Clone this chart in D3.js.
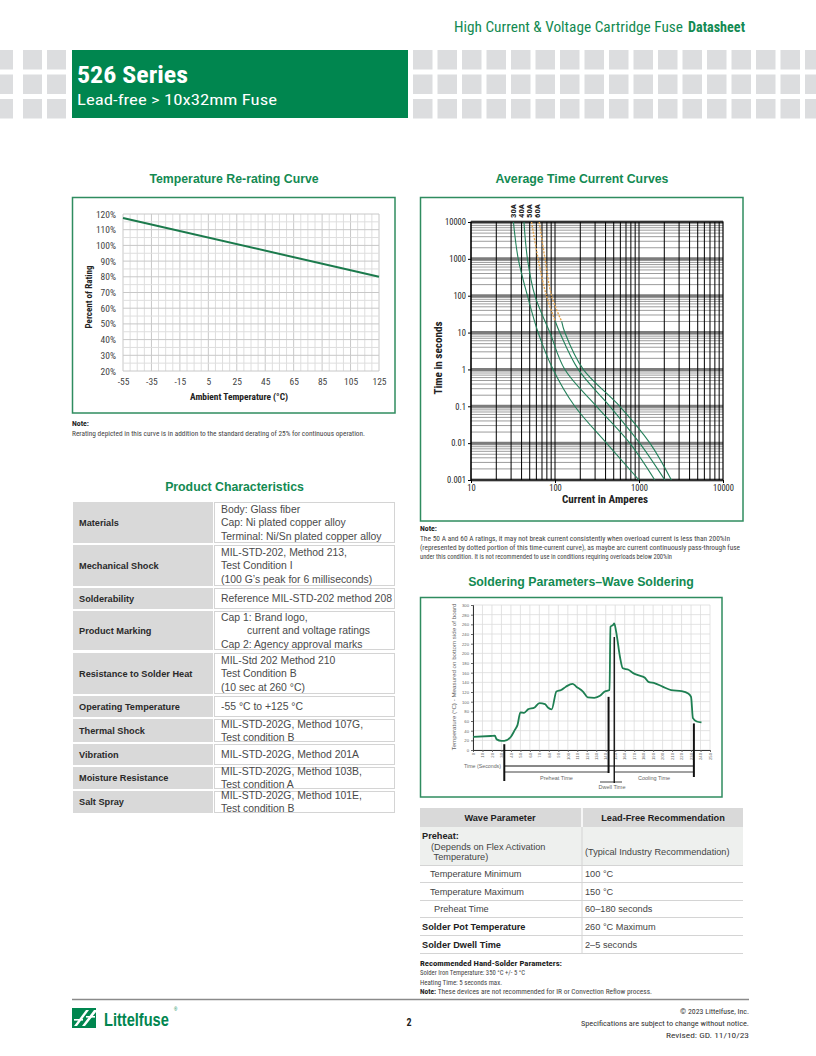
<!DOCTYPE html>
<html><head><meta charset="utf-8">
<script src="https://cdn.jsdelivr.net/npm/d3@7"></script>
<style>body{margin:0;background:#fff}svg{display:block}</style>
</head><body>
<svg id="page" width="816" height="1056"></svg>
<script>
// ---------------- DATA ----------------
const headerTitle = "High Current & Voltage Cartridge Fuse";
const headerBold = "Datasheet";
const seriesTitle = "526 Series";
const seriesSub = "Lead-free > 10x32mm Fuse";

// Temperature re-rating curve
const derateTemps = [-55, 125];
const deratePct = [117.5, 80];
const derateXTicks = [-55, -35, -15, 5, 25, 45, 65, 85, 105, 125];
const derateYTicks = [20, 30, 40, 50, 60, 70, 80, 90, 100, 110, 120];

// Average time current curves
const tccLabels = ["30A", "40A", "50A", "60A"];
const tccTimes = [10000, 1000, 100, 10, 1, 0.1, 0.01, 0.001];
const tcc30A = [32, 36.5, 47, 63, 95, 172, 410, 1000];
const tcc40A = [42.7, 47, 57.6, 87, 131, 312, 777, 1540];
const tccDotTimes = [10000, 1000, 100, 20];
const tccSolidTimes = [20, 10, 1, 0.1, 0.01, 0.001];
const tcc50ADot = [52.6, 63, 79, 101];
const tcc50ASolid = [101, 114, 189, 450, 1020, 2030];
const tcc60ADot = [65, 76, 91, 120];
const tcc60ASolid = [120, 131, 217, 590, 1350, 2430];
const tccXTicks = [10, 100, 1000, 10000];
const tccYTicks = [0.001, 0.01, 0.1, 1, 10, 100, 1000, 10000];

// Wave soldering profile
const solderTime = [0,19,23,25,30,33,40,44,47,50,54,58,65,70,76,79,83,88,93,98,105,109,116,121,128,134,139,144,145,148,149,151,155,158,164,169,174,181,185,192,200,209,220,227,230,232,236,241];
const solderTemp = [27,29,29.5,22,19,19,27.5,41,52,78,77,84,88,97,95,88,84,121,124,131,137,131,121,109,108,112,121,124,255,259,262,245,193,169,166,159,155,150,141,138,131,124,122,117,110,66,59,57];
const solderXTicks = d3.range(0, 251, 10);
const solderYTicks = d3.range(0, 301, 20);
const solderMarkT = [33, 143, 149, 233];
const solderMarkTemp = [12, 110, 234, 55];

// Product characteristics
const pcLabels = ["Materials","Mechanical Shock","Solderability","Product Marking","Resistance to Solder Heat","Operating  Temperature","Thermal Shock","Vibration","Moisture Resistance","Salt Spray"];
const pcValues = [
  ["Body: Glass fiber","Cap: Ni plated copper alloy","Terminal: Ni/Sn plated copper alloy"],
  ["MIL-STD-202, Method 213,","Test Condition I","(100 G’s peak for 6 milliseconds)"],
  ["Reference MIL-STD-202 method 208"],
  ["Cap 1: Brand logo,","\u00a0\u00a0\u00a0\u00a0\u00a0\u00a0\u00a0\u00a0\u00a0current and voltage ratings","Cap 2: Agency approval marks"],
  ["MIL-Std 202 Method 210","Test Condition B","(10 sec at 260 °C)"],
  ["-55 °C to +125 °C"],
  ["MIL-STD-202G, Method 107G,","Test  condition B"],
  ["MIL-STD-202G, Method 201A"],
  ["MIL-STD-202G, Method 103B,","Test  condition A"],
  ["MIL-STD-202G, Method 101E,","Test  condition B"]
];
const pcRowTop = [502,545,588,611,653,696,719,744,767,791];
const pcRowBot = [543,586,609,650,694,717,742,765,789,813];

// Wave parameter table
const wpHeader = ["Wave Parameter","Lead-Free Recommendation"];
const wpParam = [["Preheat:","(Depends on Flex Activation","\u00a0Temperature)"],["Temperature Minimum"],["Temperature Maximum"],["Preheat Time"],["Solder Pot Temperature"],["Solder Dwell Time"]];
const wpRec = ["(Typical Industry Recommendation)","100 °C","150 °C","60–180 seconds","260 °C Maximum","2–5 seconds"];
const wpRowTop = [827,866,883,901,918,936];
const wpRowBot = [865,882,900,917,935,953];

// ---------------- HELPERS ----------------
const svg = d3.select("#page");
const SANS = "'Liberation Sans', Arial, Helvetica, sans-serif";
const NARROW = "'Liberation Sans Narrow','Roboto Condensed','DejaVu Sans Condensed','Liberation Sans',Arial,sans-serif";
const GREEN = "#00864f", TGREEN = "#138a52", BOXG = "#2f8c5f", CURVE = "#1b7a4c";

function T(g, x, y, s, o = {}) {
  const t = g.append("text").attr("x", x).attr("y", y).text(s)
    .attr("font-family", o.ff || SANS).attr("font-size", o.fs || 10).attr("fill", o.fill || "#333");
  if (o.fw) t.attr("font-weight", o.fw);
  if (o.anchor) t.attr("text-anchor", o.anchor);
  if (o.len) t.attr("textLength", o.len).attr("lengthAdjust", "spacingAndGlyphs");
  if (o.rot != null) t.attr("transform", `rotate(${o.rot},${x},${y})`);
  return t;
}
function line(g, x1, y1, x2, y2, c, w) {
  return g.append("line").attr("x1", x1).attr("y1", y1).attr("x2", x2).attr("y2", y2).attr("stroke", c).attr("stroke-width", w);
}

// ---------------- HEADER ----------------
const hdr = svg.append("g");
T(hdr, 683, 32, headerTitle, {ff: NARROW, fs: 14, fill: TGREEN, anchor: "end", len: 229});
T(hdr, 745, 32, headerBold, {ff: NARROW, fs: 14, fill: TGREEN, fw: "bold", anchor: "end", len: 57});
const sqRows = [50, 74.5, 99];
const sqLeft = [[-6, 19], [23, 19], [47, 19]];
sqRows.forEach(y => {
  sqLeft.forEach(([x, w]) => hdr.append("rect").attr("x", x).attr("y", y).attr("width", w).attr("height", 19.5).attr("fill", "#dcdddf"));
  for (let x = 413; x < 816; x += 24.5) hdr.append("rect").attr("x", x).attr("y", y).attr("width", 19.5).attr("height", 19.5).attr("fill", "#dcdddf");
});
hdr.append("rect").attr("x", 72).attr("y", 50).attr("width", 336).attr("height", 68).attr("fill", GREEN);
T(hdr, 77, 83, seriesTitle, {ff: NARROW, fs: 23, fw: "bold", fill: "#fff", len: 111});
T(hdr, 77, 105, seriesSub, {ff: NARROW, fs: 15, fill: "#fff", len: 200});

// ---------------- TEMPERATURE RE-RATING ----------------
{
  const g = svg.append("g");
  T(g, 234, 183, "Temperature Re-rating Curve", {fs: 12.3, fw: "bold", fill: TGREEN, anchor: "middle"});
  g.append("rect").attr("x", 72.5).attr("y", 197.5).attr("width", 322.5).attr("height", 215.5).attr("fill", "none").attr("stroke", BOXG).attr("stroke-width", 1.5);
  const x = d3.scaleLinear().domain([-55, 125]).range([123, 379]);
  const y = d3.scaleLinear().domain([20, 120]).range([371, 214]);
  d3.range(-55, 126, 5).forEach(v => line(g, x(v), y(120), x(v), y(20), derateXTicks.includes(v) ? "#c8c8c8" : "#dedede", 1));
  d3.range(20, 121, 5).forEach(v => line(g, x(-55), y(v), x(125), y(v), derateYTicks.includes(v) ? "#c8c8c8" : "#dedede", 1));
  const ax = g.append("g").attr("transform", `translate(0,${y(20)})`)
    .call(d3.axisBottom(x).tickValues(derateXTicks).tickSize(0).tickPadding(7).tickFormat(d => d));
  const ay = g.append("g").attr("transform", `translate(${x(-55)},0)`)
    .call(d3.axisLeft(y).tickValues(derateYTicks).tickSize(0).tickPadding(7).tickFormat(d => d + "%"));
  [ax, ay].forEach(a => { a.select(".domain").remove(); a.selectAll("text").attr("font-family", NARROW).attr("font-size", 9.5).attr("fill", "#444"); });
  const pts = derateTemps.map((t, i) => [t, deratePct[i]]);
  g.append("path").attr("d", d3.line().x(d => x(d[0])).y(d => y(d[1]))(pts)).attr("fill", "none").attr("stroke", CURVE).attr("stroke-width", 2);
  T(g, 239, 400, "Ambient Temperature (°C)", {ff: NARROW, fs: 9.5, fw: "bold", fill: "#222", anchor: "middle", len: 98});
  T(g, 92, 297, "Percent of Rating", {ff: NARROW, fs: 9, fw: "bold", fill: "#222", anchor: "middle", rot: -90, len: 63});
  T(g, 72, 426, "Note:", {ff: NARROW, fs: 7.5, fw: "bold", fill: "#222", len: 17});
  T(g, 72, 435.5, "Rerating depicted in this curve is in addition to the standard derating of 25% for continuous operation.", {ff: NARROW, fs: 7.5, fill: "#444", len: 293});
}

// ---------------- PRODUCT CHARACTERISTICS ----------------
{
  const g = svg.append("g");
  T(g, 234.5, 491, "Product Characteristics", {fs: 12.3, fw: "bold", fill: TGREEN, anchor: "middle"});
  pcLabels.forEach((lab, i) => {
    const t0 = pcRowTop[i], t1 = pcRowBot[i], cy = (t0 + t1) / 2;
    g.append("rect").attr("x", 73).attr("y", t0).attr("width", 140).attr("height", t1 - t0).attr("fill", "#d9d9d9");
    g.append("rect").attr("x", 214.5).attr("y", t0 + 0.5).attr("width", 180).attr("height", t1 - t0 - 1).attr("fill", "#fff").attr("stroke", "#d4d4d4").attr("stroke-width", 1);
    T(g, 79, cy + 3.3, lab, {fs: 9.2, fw: "bold", fill: "#2a2a2a"});
    const vals = pcValues[i], n = vals.length, lh = 13.3;
    vals.forEach((v, j) => T(g, 221, cy + (j - (n - 1) / 2) * lh + 3.7, v, {fs: 10.4, fill: "#4a4a4a"}));
  });
}

// ---------------- AVERAGE TIME CURRENT CURVES ----------------
{
  const g = svg.append("g");
  T(g, 582, 183, "Average Time Current Curves", {fs: 12.3, fw: "bold", fill: TGREEN, anchor: "middle"});
  g.append("rect").attr("x", 420.5).attr("y", 197.5).attr("width", 322.5).attr("height", 323.5).attr("fill", "none").attr("stroke", BOXG).attr("stroke-width", 1.5);
  const x = d3.scaleLog().domain([10, 10000]).range([471, 723]);
  const y = d3.scaleLog().domain([0.001, 10000]).range([480, 222]);
  // horizontal grid
  [0.001, 0.01, 0.1, 1, 10, 100, 1000].forEach(d => {
    for (let k = 2; k <= 9; k++) line(g, 471, y(d * k), 723, y(d * k), "#9c9c9c", 1);
  });
  tccYTicks.forEach(d => line(g, 471, y(d), 723, y(d), "#7c7c7c", 3));
  // vertical grid
  [10, 100, 1000].forEach(d => {
    for (let k = 1; k <= 9; k++) line(g, x(d * k), 222, x(d * k), 480, "#000", 1);
  });
  g.append("rect").attr("x", 471).attr("y", 222).attr("width", 252).attr("height", 258).attr("fill", "none").attr("stroke", "#000").attr("stroke-width", 1.2);
  const ax = g.append("g").attr("transform", "translate(0,480)")
    .call(d3.axisBottom(x).tickValues(tccXTicks).tickSize(3).tickPadding(2).tickFormat(d => String(d)));
  const ay = g.append("g").attr("transform", "translate(471,0)")
    .call(d3.axisLeft(y).tickValues(tccYTicks).tickSize(3).tickPadding(2).tickFormat(d => String(d)));
  [ax, ay].forEach(a => { a.select(".domain").remove(); a.selectAll("line").attr("stroke", "#000");
    a.selectAll("text").attr("font-family", NARROW).attr("font-size", 8.5).attr("fill", "#222"); });
  const lg = d3.line().x(d => x(d[0])).y(d => y(d[1])).curve(d3.curveCatmullRom.alpha(0.5));
  const zip = (a, b) => a.map((v, i) => [v, b[i]]);
  const solid = [zip(tcc30A, tccTimes), zip(tcc40A, tccTimes), zip(tcc50ASolid, tccSolidTimes), zip(tcc60ASolid, tccSolidTimes)];
  const dotted = [zip(tcc50ADot, tccDotTimes), zip(tcc60ADot, tccDotTimes)];
  dotted.forEach(p => g.append("path").attr("d", lg(p)).attr("fill", "none").attr("stroke", "#e3a552").attr("stroke-width", 1.4).attr("stroke-dasharray", "2,1.3"));
  solid.forEach(p => g.append("path").attr("d", lg(p)).attr("fill", "none").attr("stroke", "#23805a").attr("stroke-width", 1.1));
  const labX = [513, 520.5, 529, 537];
  tccLabels.forEach((l, i) => T(g, labX[i] + 3, 218, l, {ff: NARROW, fs: 8, fw: "bold", fill: "#222", rot: -90, len: 14}));
  T(g, 605, 503, "Current in Amperes", {ff: NARROW, fs: 10.5, fw: "bold", fill: "#222", anchor: "middle", len: 86});
  T(g, 442, 358, "Time in seconds", {ff: NARROW, fs: 10.5, fw: "bold", fill: "#222", anchor: "middle", rot: -90, len: 73});
  // note
  T(g, 420, 531, "Note:", {ff: NARROW, fs: 7.5, fw: "bold", fill: "#222", len: 17});
  T(g, 420, 540.5, "The 50 A and 60 A ratings, it may not break current consistently when overload current is less than 200%In", {ff: NARROW, fs: 7.5, fill: "#444", len: 310});
  T(g, 420, 549.5, "(represented by dotted portion of this time-current curve), as maybe arc current continuously pass-through fuse", {ff: NARROW, fs: 7.5, fill: "#444", len: 320});
  T(g, 420, 558.5, "under this condition. It is not recommended to use in conditions requiring overloads below 200%In", {ff: NARROW, fs: 7.5, fill: "#444", len: 252});
}

// ---------------- SOLDERING PARAMETERS ----------------
{
  const g = svg.append("g");
  T(g, 581, 586, "Soldering Parameters–Wave Soldering", {fs: 12.3, fw: "bold", fill: TGREEN, anchor: "middle"});
  g.append("rect").attr("x", 420.5).attr("y", 597.5).attr("width", 301.5).attr("height", 199.5).attr("fill", "none").attr("stroke", BOXG).attr("stroke-width", 1.5);
  const x = d3.scaleLinear().domain([0, 250]).range([473, 710]);
  const y = d3.scaleLinear().domain([0, 300]).range([750, 605]);
  solderXTicks.forEach(v => line(g, x(v), y(300), x(v), y(0), "#dcdcdc", 0.8));
  solderYTicks.forEach(v => line(g, x(0), y(v), x(250), y(v), "#dcdcdc", 0.8));
  const ax = g.append("g").attr("transform", `translate(0,${y(0)})`)
    .call(d3.axisBottom(x).tickValues(solderXTicks).tickSize(2).tickPadding(1).tickFormat(d => d));
  ax.selectAll("text").attr("transform", "rotate(-90)").attr("text-anchor", "end").attr("dy", "0.3em").attr("x", -3).attr("y", 0);
  const ay = g.append("g").attr("transform", `translate(${x(0)},0)`)
    .call(d3.axisLeft(y).tickValues(solderYTicks).tickSize(2).tickPadding(2).tickFormat(d => d));
  [ax, ay].forEach(a => { a.select(".domain").attr("stroke", "#333").attr("stroke-width", 1); a.selectAll("line").attr("stroke", "#666");
    a.selectAll("text").attr("font-family", SANS).attr("font-size", 4.2).attr("fill", "#666"); });
  const pts = solderTime.map((t, i) => [t, solderTemp[i]]);
  g.append("path").attr("d", d3.line().x(d => x(d[0])).y(d => y(d[1])).curve(d3.curveMonotoneX)(pts))
    .attr("fill", "none").attr("stroke", "#1e7f52").attr("stroke-width", 1.8);
  T(g, 456, 677, "Temperature (°C) - Measured on bottom side of board", {fs: 5.5, fill: "#666", anchor: "middle", rot: -90, len: 147});
  // markers
  const markBot = [781, 773, 783, 777];
  solderMarkT.forEach((t, i) => line(g, x(t), y(solderMarkTemp[i]), x(t), markBot[i], "#111", i === 2 ? 1.4 : 2));
  line(g, x(solderMarkT[0]), 766, x(solderMarkT[3]), 766, "#111", 1);
  line(g, x(solderMarkT[0]), 772, x(solderMarkT[1]), 772, "#111", 0.8);
  line(g, x(solderMarkT[2]), 772, x(solderMarkT[3]), 772, "#111", 0.8);
  line(g, 600, 782, 622, 782, "#111", 0.8);
  T(g, 464, 768, "Time (Seconds)", {fs: 5.5, fill: "#666", len: 37});
  T(g, (x(solderMarkT[0]) + x(solderMarkT[1])) / 2, 780, "Preheat Time", {fs: 5.5, fill: "#666", anchor: "middle"});
  T(g, (x(solderMarkT[2]) + x(solderMarkT[3])) / 2, 780, "Cooling Time", {fs: 5.5, fill: "#666", anchor: "middle"});
  T(g, 612, 788.5, "Dwell Time", {fs: 5.5, fill: "#666", anchor: "middle"});
}

// ---------------- WAVE PARAMETER TABLE ----------------
{
  const g = svg.append("g");
  g.append("rect").attr("x", 420).attr("y", 808).attr("width", 323).attr("height", 19).attr("fill", "#d9d9d9");
  line(g, 582, 808, 582, 827, "#fff", 1.5);
  T(g, 500, 820.5, wpHeader[0], {fs: 9.2, fw: "bold", fill: "#222", anchor: "middle"});
  T(g, 663, 820.5, wpHeader[1], {fs: 9.2, fw: "bold", fill: "#222", anchor: "middle"});
  wpParam.forEach((lines, i) => {
    const t0 = wpRowTop[i], t1 = wpRowBot[i], cy = (t0 + t1) / 2;
    g.append("rect").attr("x", 420).attr("y", t0).attr("width", 323).attr("height", t1 - t0).attr("fill", i === 0 ? "#eef0ee" : "#fff");
    line(g, 420, t1 + 0.5, 743, t1 + 0.5, "#d4d4d4", 1);
    line(g, 582, t0, 582, t1, "#d4d4d4", 1);
    if (i === 0) {
      T(g, 422, 839, lines[0], {fs: 9.2, fw: "bold", fill: "#222"});
      T(g, 431, 849.5, lines[1], {fs: 9.2, fill: "#444"});
      T(g, 431, 860, lines[2], {fs: 9.2, fill: "#444"});
    } else {
      const bold = i >= 4;
      const indent = i === 3 ? 434 : (bold ? 422 : 430);
      T(g, indent, cy + 3.3, lines[0], {fs: 9.2, fw: bold ? "bold" : null, fill: bold ? "#222" : "#444"});
    }
    T(g, 585, i === 0 ? 855 : cy + 3.3, wpRec[i], {fs: 9.2, fill: "#444"});
  });
  T(g, 420, 965.5, "Recommended Hand-Solder Parameters:", {ff: NARROW, fs: 7, fw: "bold", fill: "#222", len: 142});
  T(g, 420, 975, "Solder Iron Temperature: 350 °C +/- 5 °C", {ff: NARROW, fs: 7, fill: "#444", len: 105});
  T(g, 420, 984.5, "Heating Time: 5 seconds max.", {ff: NARROW, fs: 7, fill: "#444", len: 82});
  const nt = T(g, 420, 994, "", {ff: NARROW, fs: 7, fill: "#444", len: 232});
  nt.append("tspan").attr("font-weight", "bold").attr("fill", "#222").text("Note: ");
  nt.append("tspan").text("These devices are not recommended for IR or Convection Reflow process.");
}

// ---------------- FOOTER ----------------
{
  const g = svg.append("g");
  line(g, 72, 999.5, 749, 999.5, "#8a8a8a", 1.5);
  // logo icon
  g.append("rect").attr("x", 72).attr("y", 1008).attr("width", 24).attr("height", 20).attr("fill", GREEN);
  g.append("path").attr("d", "M74,1026 L86,1010 L89,1010 L77,1026 Z M82,1026 L94,1010 L96,1010 L96,1012 L85,1026 Z").attr("fill", "#fff");
  g.append("rect").attr("x", 74).attr("y", 1019).attr("width", 9).attr("height", 1.6).attr("fill", "#fff");
  g.append("rect").attr("x", 86).attr("y", 1016).attr("width", 9).attr("height", 1.6).attr("fill", "#fff");
  g.append("text").attr("transform", "translate(104,1026) scale(1,1.25)").attr("x", 0).attr("y", 0)
    .attr("font-family", SANS).attr("font-size", 14.6).attr("font-weight", "bold").attr("fill", GREEN).text("Littelfuse");
  T(g, 174, 1011, "®", {fs: 4.5, fill: GREEN});
  T(g, 409, 1026, "2", {ff: NARROW, fs: 10, fw: "bold", fill: "#222", anchor: "middle"});
  T(g, 749, 1013.5, "© 2023 Littelfuse, Inc.", {ff: NARROW, fs: 7.5, fill: "#333", anchor: "end", len: 69});
  T(g, 749, 1025.5, "Specifications are subject to change without notice.", {ff: NARROW, fs: 7.5, fill: "#333", anchor: "end", len: 168});
  T(g, 749, 1037.5, "Revised: GD. 11/10/23", {ff: NARROW, fs: 7.5, fill: "#333", anchor: "end", len: 83});
}
</script>
</body></html>
